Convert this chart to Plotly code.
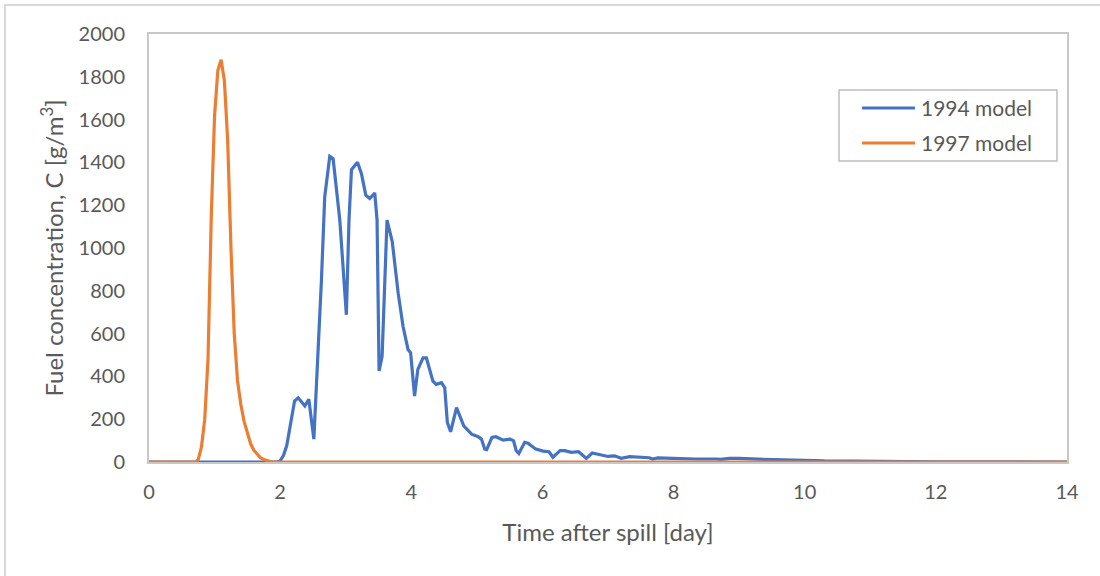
import plotly.graph_objects as go

# ---- data ----
t_1994 = [0, 1.95, 2.00, 2.05, 2.10, 2.15, 2.22, 2.275, 2.377, 2.437, 2.514, 2.63, 2.68,
          2.757, 2.808, 2.91, 3.01, 3.05, 3.088, 3.18, 3.24, 3.306, 3.367, 3.443, 3.478,
          3.509, 3.555, 3.63, 3.71, 3.80, 3.874, 3.95, 3.99, 4.05, 4.10, 4.18, 4.23, 4.33,
          4.38, 4.46, 4.51, 4.55, 4.60, 4.69, 4.80, 4.92, 5.02, 5.07, 5.12, 5.15, 5.23,
          5.29, 5.40, 5.51, 5.56, 5.60, 5.64, 5.73, 5.78, 5.90, 6.01, 6.10, 6.16, 6.27,
          6.34, 6.44, 6.55, 6.61, 6.67, 6.76, 6.87, 7.00, 7.10, 7.20, 7.33, 7.48, 7.63,
          7.68, 7.76, 7.99, 8.17, 8.24, 8.34, 8.65, 8.72, 8.85, 9.00, 9.30, 9.60, 9.90,
          10.0, 10.3, 10.8, 11.5, 12.0, 14.0]
c_1994 = [0, 0, 5, 30, 76, 160, 285, 300, 262, 293, 107, 851, 1239,
          1428, 1417, 1130, 688, 1130, 1366, 1401, 1347, 1247, 1231, 1257, 1130,
          425, 494, 1130, 1029, 789, 634, 526, 510, 308, 433, 487, 487, 378,
          363, 371, 347, 185, 141, 254, 169, 130, 118, 107, 60, 58, 115,
          118, 102, 107, 99, 53, 40, 92, 88, 60, 51, 48, 22, 53,
          53, 45, 48, 33, 17, 42, 36, 26, 29, 17, 25, 22, 20,
          14, 19, 17, 16, 12, 14, 14, 12, 17, 17, 13, 12, 10,
          8, 5, 3, 2, 1, 0]

t_1997 = [0, 0.70, 0.75, 0.80, 0.85, 0.90, 0.95, 1.00, 1.05, 1.10, 1.15, 1.20, 1.25,
          1.30, 1.35, 1.40, 1.45, 1.50, 1.55, 1.60, 1.65, 1.70, 1.75, 1.80, 1.85, 1.90, 14.0]
c_1997 = [0, 0, 10, 70, 200, 480, 1150, 1620, 1830, 1880, 1780, 1500, 1000,
          600, 380, 270, 190, 130, 85, 55, 35, 20, 12, 6, 2, 0, 0]

series_names = ["1994 model", "1997 model"]
series_colors = ["#4472C4", "#ED7D31"]

x_ticks = [0, 2, 4, 6, 8, 10, 12, 14]
y_ticks = list(range(0, 2001, 200))

FONT = "Lato"
GRAY = "#595959"

L, R, T, B = 149, 33, 34, 114
W, H = 1100, 576
pw, ph = W - L - R, H - T - B


def px(xp):
    return (xp - L) / pw


def py(yp):
    return (H - B - yp) / ph


fig = go.Figure()
for name, xs, ys, col in [(series_names[0], t_1994, c_1994, series_colors[0]),
                          (series_names[1], t_1997, c_1997, series_colors[1])]:
    fig.add_trace(go.Scatter(x=xs, y=ys, mode="lines", name=name,
                             line=dict(color=col, width=3.2), cliponaxis=False,
                             showlegend=False))

# legend drawn as a framed box with line samples and labels
shapes = [
    dict(type="rect", xref="paper", yref="paper",
         x0=px(5), x1=px(W + 10), y0=py(H + 10), y1=py(5),
         line=dict(color="#D9D9D9", width=2), fillcolor="rgba(0,0,0,0)", layer="below"),
    dict(type="rect", xref="paper", yref="paper",
         x0=px(839), x1=px(1057), y0=py(161), y1=py(90),
         line=dict(color="#BFBFBF", width=1.5), fillcolor="white"),
]
annotations = []
for i, (name, col) in enumerate(zip(series_names, series_colors)):
    yy = 108 + 35 * i
    shapes.append(dict(type="line", xref="paper", yref="paper",
                       x0=px(862), x1=px(915), y0=py(yy), y1=py(yy),
                       line=dict(color=col, width=3)))
    annotations.append(dict(xref="paper", yref="paper", x=px(919), y=py(yy),
                            xanchor="left", yanchor="middle", showarrow=False,
                            text=name, font=dict(family=FONT, size=21, color=GRAY)))

fig.update_layout(
    width=W, height=H,
    margin=dict(l=L, r=R, t=T, b=B, autoexpand=False),
    paper_bgcolor="white", plot_bgcolor="white",
    font=dict(family=FONT, size=20, color=GRAY),
    showlegend=False,
    xaxis=dict(range=[0, 14], tickvals=x_ticks, showgrid=False, zeroline=False,
               showline=True, mirror=True, linecolor="#C8C8C8", linewidth=2,
               ticks="", ticklabelstandoff=11, automargin=False,
               tickfont=dict(family=FONT, size=20, color=GRAY),
               title=dict(text="Time after spill [day]", standoff=22,
                          font=dict(family=FONT, size=24, color=GRAY))),
    yaxis=dict(range=[0, 2000], tickvals=y_ticks, showgrid=False, zeroline=False,
               showline=True, mirror=True, linecolor="#C8C8C8", linewidth=2,
               ticks="", ticklabelstandoff=18, automargin=False,
               tickfont=dict(family=FONT, size=20, color=GRAY),
               title=dict(text="Fuel concentration, C [g/m<sup>3</sup>]", standoff=8,
                          font=dict(family=FONT, size=24, color=GRAY))),
    shapes=shapes,
    annotations=annotations,
)

fig.write_html("out.html")
